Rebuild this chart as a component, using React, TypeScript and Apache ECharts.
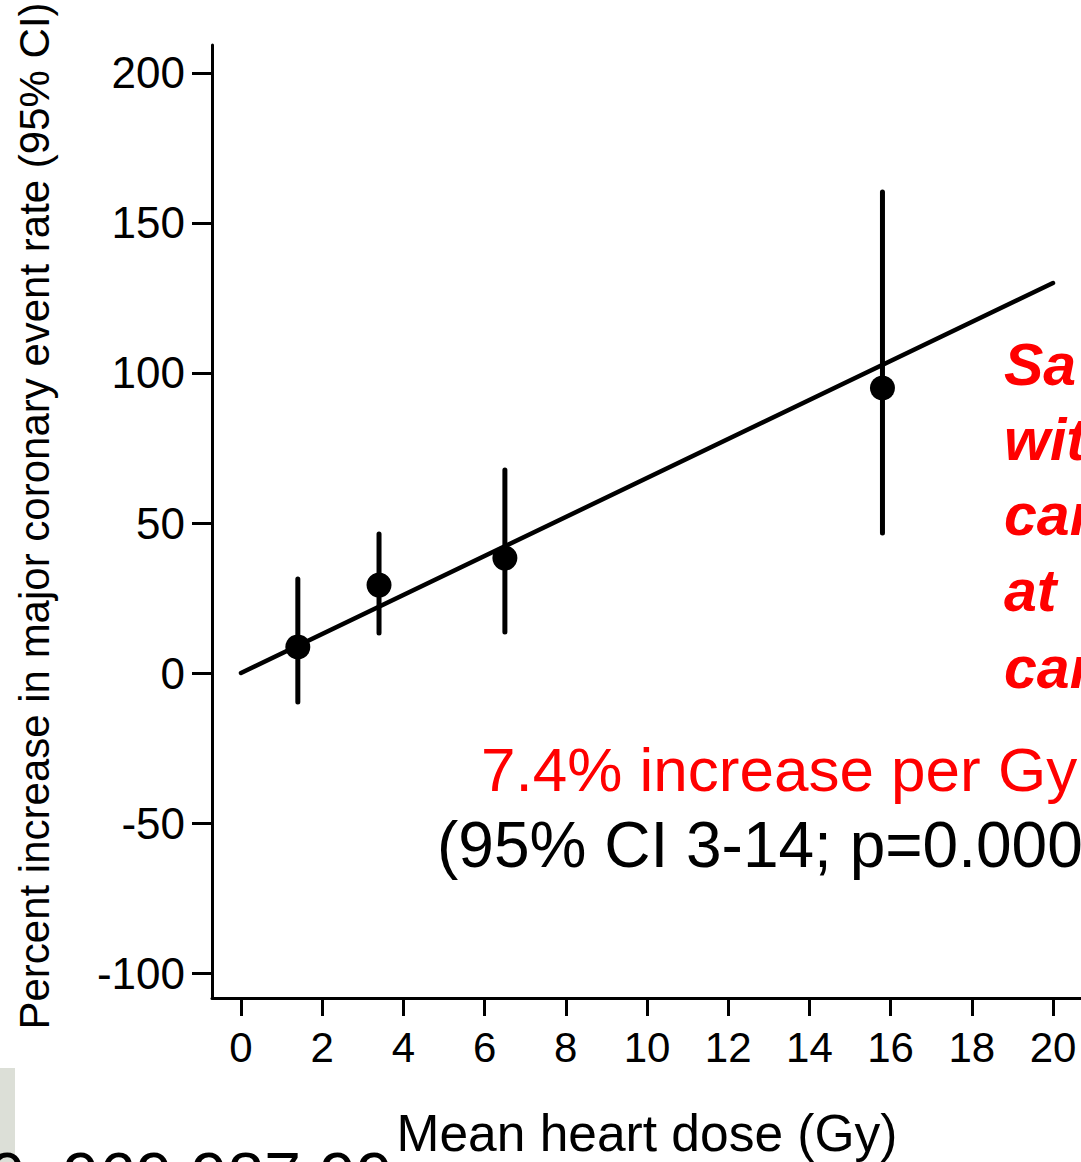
import React, { useEffect, useRef } from "react";
import * as echarts from "echarts";

// ---- data ----
const doseX = [1.4, 3.4, 6.5, 15.8];
const pctIncrease = [8.7, 29.3, 38.3, 95];
const ciLower = [-9.7, 13.3, 13.7, 46.7];
const ciUpper = [31.3, 46.3, 67.7, 160.3];
const fitX = [0, 20];
const fitY = [0, 130];
const xTicks = [0, 2, 4, 6, 8, 10, 12, 14, 16, 18, 20];
const yTicks = [-100, -50, 0, 50, 100, 150, 200];
const redLines = ["Sa", "wit", "car", "at", "car"];
const slopeText = "7.4% increase per Gy";
const ciText = "(95% CI 3-14; p=0.000";
const xTitle = "Mean heart dose (Gy)";
const yTitle = "Percent increase in major coronary event rate (95% CI)";
const bottomText = "9, 969 987 99";

const FONT = "'Liberation Sans', Arial, Helvetica, sans-serif";

export default function App() {
  const ref = useRef<HTMLDivElement>(null);
  useEffect(() => {
    if (!ref.current) return;
    const chart = echarts.init(ref.current, null, { renderer: "svg" });
    const redBaselines = [386, 461, 536, 612, 689];
    const option: any = {
      animation: false,
      backgroundColor: "#ffffff",
      grid: { left: 212, right: 0, top: 45, bottom: 164, containLabel: false },
      xAxis: {
        type: "value",
        min: -0.714,
        max: 20.69,
        axisLine: { show: true, onZero: false, lineStyle: { color: "#000", width: 3 } },
        axisTick: { show: true, length: 18, customValues: xTicks, lineStyle: { color: "#000", width: 3 } },
        axisLabel: { customValues: xTicks, color: "#000", fontSize: 42, fontFamily: FONT, margin: 28 },
        splitLine: { show: false },
      },
      yAxis: {
        type: "value",
        min: -108.33,
        max: 209.33,
        axisLine: { show: true, onZero: false, lineStyle: { color: "#000", width: 3 } },
        axisTick: { show: true, length: 20, customValues: yTicks, lineStyle: { color: "#000", width: 3 } },
        axisLabel: { customValues: yTicks, color: "#000", fontSize: 44, fontFamily: FONT, margin: 27 },
        splitLine: { show: false },
      },
      series: [
        {
          type: "custom",
          data: doseX.map((x, i) => [x, ciLower[i], ciUpper[i]]),
          encode: { x: 0, y: [1, 2] },
          renderItem: (params: any, api: any) => {
            const x = api.value(0);
            const lo = api.coord([x, api.value(1)]);
            const hi = api.coord([x, api.value(2)]);
            return {
              type: "line",
              shape: { x1: lo[0], y1: lo[1], x2: hi[0], y2: hi[1] },
              style: { stroke: "#000", lineWidth: 5, lineCap: "round" },
            };
          },
          z: 2,
        },
        {
          type: "line",
          data: fitX.map((x, i) => [x, fitY[i]]),
          showSymbol: false,
          symbol: "none",
          lineStyle: { color: "#000", width: 4.5, cap: "round" },
          z: 3,
        },
        {
          type: "scatter",
          data: doseX.map((x, i) => [x, pctIncrease[i]]),
          symbol: "circle",
          symbolSize: 25,
          itemStyle: { color: "#000", opacity: 1 },
          z: 4,
        },
      ],
      graphic: [
        ...redLines.map((t, i) => ({
          type: "text",
          x: 1004,
          y: redBaselines[i] - 21,
          z: 10,
          style: {
            text: t,
            fill: "#ff0000",
            fontSize: 59,
            fontFamily: FONT,
            fontWeight: "bold",
            fontStyle: "italic",
            align: "left",
            verticalAlign: "middle",
          },
        })),
        {
          type: "text",
          x: 481,
          y: 769,
          z: 10,
          style: {
            text: slopeText,
            fill: "#ff0000",
            fontSize: 62,
            fontFamily: FONT,
            align: "left",
            verticalAlign: "middle",
          },
        },
        {
          type: "text",
          x: 437,
          y: 845,
          z: 10,
          style: {
            text: ciText,
            fill: "#000",
            fontSize: 64,
            fontFamily: FONT,
            align: "left",
            verticalAlign: "middle",
          },
        },
        {
          type: "text",
          x: 647,
          y: 1133,
          z: 10,
          style: {
            text: xTitle,
            fill: "#000",
            fontSize: 51.5,
            fontFamily: FONT,
            align: "center",
            verticalAlign: "middle",
          },
        },
        {
          type: "text",
          x: 34,
          y: 516,
          rotation: Math.PI / 2,
          z: 10,
          style: {
            text: yTitle,
            fill: "#000",
            fontSize: 42,
            fontFamily: FONT,
            align: "center",
            verticalAlign: "middle",
          },
        },
        {
          type: "rect",
          shape: { x: 0, y: 1068, width: 15, height: 94 },
          style: { fill: "#dcdfd7" },
          z: 9,
        },
        {
          type: "text",
          x: -11,
          y: 1176,
          z: 10,
          style: {
            text: bottomText,
            fill: "#000",
            fontSize: 66,
            fontFamily: FONT,
            align: "left",
            verticalAlign: "middle",
          },
        },
      ],
    };
    chart.setOption(option);
    return () => chart.dispose();
  }, []);
  return (
    <div
      ref={ref}
      style={{ position: "absolute", left: 0, top: 0, width: 1081, height: 1162, overflow: "hidden" }}
    />
  );
}
